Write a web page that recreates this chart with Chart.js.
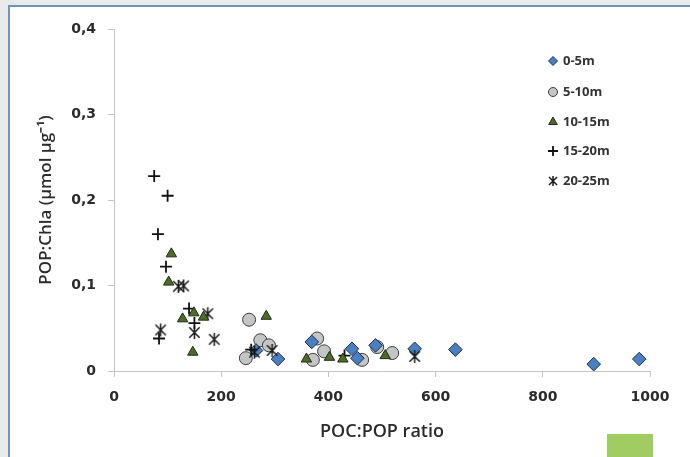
<!DOCTYPE html>
<html>
<head>
<meta charset="utf-8">
<script src="https://cdn.jsdelivr.net/npm/chart.js@4/dist/chart.umd.min.js"></script>
<style>
  html, body { margin: 0; padding: 0; }
  body { width: 690px; height: 457px; background: #e9ebea; position: relative; overflow: hidden; }
  #panel { position: absolute; left: 8px; top: 5px; right: -10px; bottom: -10px; background: #ffffff;
           border-left: 2px solid #6d95b9; border-top: 2px solid #6d95b9; }
  #green { position: absolute; left: 607px; top: 434px; width: 46px; height: 23px; background: #a0cc62; }
  #wrap { position: absolute; left: 0; top: 0; width: 690px; height: 457px; }
</style>
</head>
<body>
<div id="panel"></div>
<div id="green"></div>
<div id="wrap"><canvas id="c" width="690" height="457"></canvas></div>
<script>
// ---- data ----
const seriesLabels = ['0-5m', '5-10m', '10-15m', '15-20m', '20-25m'];

const x0_5  = [265, 306, 369, 444, 454, 488, 561, 637, 895, 980];
const y0_5  = [0.024, 0.014, 0.034, 0.026, 0.015, 0.030, 0.026, 0.025, 0.008, 0.014];

const x5_10 = [252, 273, 289, 246, 379, 392, 371, 463, 491, 519];
const y5_10 = [0.060, 0.036, 0.030, 0.015, 0.038, 0.023, 0.013, 0.013, 0.028, 0.021];

const x10_15 = [107, 102, 128, 149, 167, 284, 147, 359, 402, 427, 506];
const y10_15 = [0.137, 0.104, 0.061, 0.068, 0.063, 0.064, 0.022, 0.014, 0.016, 0.014, 0.018];

const x15_20 = [75, 100, 82, 97, 140, 150, 84, 256, 430];
const y15_20 = [0.228, 0.205, 0.160, 0.122, 0.073, 0.056, 0.038, 0.025, 0.018];

const x20_25 = [87, 120, 130, 150, 175, 187, 262, 295, 561];
const y20_25 = [0.048, 0.099, 0.0995, 0.045, 0.067, 0.037, 0.022, 0.024, 0.017];

const xTicks = [0, 200, 400, 600, 800, 1000];
const yTicks = [0, 0.1, 0.2, 0.3, 0.4];
const xTitle = 'POC:POP ratio';
const yTitle = 'POP:Chla (µmol µg⁻¹)';

function pts(xs, ys) { return xs.map((x, i) => ({ x: x, y: ys[i] })); }

// asterisk marker (X with vertical stroke)
function makeAsterisk(size, lw, color) {
  const c = document.createElement('canvas');
  c.width = size + 4; c.height = size + 4;
  const g = c.getContext('2d');
  const m = (size + 4) / 2, h = size / 2;
  g.strokeStyle = color; g.lineWidth = lw; g.lineCap = 'butt';
  g.beginPath();
  g.moveTo(m - h * 0.8, m - h * 0.8); g.lineTo(m + h * 0.8, m + h * 0.8);
  g.moveTo(m + h * 0.8, m - h * 0.8); g.lineTo(m - h * 0.8, m + h * 0.8);
  g.moveTo(m, m - h); g.lineTo(m, m + h);
  g.stroke();
  return c;
}
const starBig = makeAsterisk(13, 1.5, '#1a1a1a');
const starSmall = makeAsterisk(10, 1.5, '#1a1a1a');

const styles = [
  { pointStyle: 'rectRot', backgroundColor: '#4a7fc1', borderColor: '#1c2f48', borderWidth: 1, pointRadius: 6.8, legendRadius: 4.5 },
  { pointStyle: 'circle', backgroundColor: '#c4c5c6', borderColor: '#3c3c3c', borderWidth: 1, pointRadius: 6.5, legendRadius: 4.5 },
  { pointStyle: 'triangle', backgroundColor: '#4f6b2b', borderColor: '#1f2b12', borderWidth: 1, pointRadius: 6, legendRadius: 5 },
  { pointStyle: 'cross', backgroundColor: '#111', borderColor: '#111', borderWidth: 1.8, pointRadius: 6, legendRadius: 5 },
  { pointStyle: starBig, backgroundColor: '#222', borderColor: '#222', borderWidth: 1, pointRadius: 6, legendRadius: 5, legendImg: starSmall }
];
const allData = [pts(x0_5, y0_5), pts(x5_10, y5_10), pts(x10_15, y10_15), pts(x15_20, y15_20), pts(x20_25, y20_25)];

const datasets = seriesLabels.map((lab, i) => ({
  label: lab,
  data: allData[i],
  pointStyle: styles[i].pointStyle,
  backgroundColor: styles[i].backgroundColor,
  borderColor: styles[i].borderColor,
  borderWidth: styles[i].borderWidth,
  pointRadius: styles[i].pointRadius,
  pointHoverRadius: styles[i].pointRadius,
  showLine: false,
  order: [1, 2, 0, 0, 0][i]
}));

const legendPlugin = {
  id: 'customLegend',
  afterDraw(chart) {
    const ctx = chart.ctx;
    const x0 = 553, ys = [61, 92, 122, 151, 181];
    ctx.save();
    ctx.font = 'bold 13px "Open Sans", sans-serif';
    ctx.textBaseline = 'middle';
    ctx.textAlign = 'left';
    seriesLabels.forEach((lab, i) => {
      const s = styles[i];
      const y = ys[i];
      if (s.legendImg) {
        ctx.drawImage(s.legendImg, x0 - s.legendImg.width / 2, y - s.legendImg.height / 2);
      } else {
        ctx.fillStyle = s.backgroundColor;
        ctx.strokeStyle = s.borderColor;
        ctx.lineWidth = s.pointStyle === 'cross' ? 1.8 : 1;
        Chart.helpers.drawPoint(ctx, { pointStyle: s.pointStyle, radius: s.legendRadius, rotation: 0, borderWidth: ctx.lineWidth }, x0, y);
      }
      ctx.fillStyle = '#333';
      ctx.fillText(lab, x0 + 10, y);
    });
    ctx.restore();
  }
};

const tickFont = { family: '"DejaVu Sans", sans-serif', size: 14, weight: 'bold' };

new Chart(document.getElementById('c'), {
  type: 'scatter',
  data: { datasets: datasets },
  options: {
    responsive: false,
    animation: false,
    events: [],
    layout: { padding: { left: 36, right: 40, top: 29, bottom: 0 } },
    plugins: { legend: { display: false }, tooltip: { enabled: false } },
    scales: {
      x: {
        type: 'linear', min: 0, max: 1000,
        afterBuildTicks(scale) { scale.ticks = xTicks.map(v => ({ value: v })); },
        afterFit(scale) { scale.height = 86; },
        ticks: { font: tickFont, color: '#2b2b2b', padding: 12, maxRotation: 0,
                 callback: v => String(v) },
        grid: { display: true, drawOnChartArea: false, drawTicks: true, tickLength: 6, color: '#c4c4c4' },
        border: { display: true, color: '#c4c4c4', width: 1 },
        title: { display: true, text: xTitle, color: '#2b2b2b',
                 font: { family: '"Open Sans", sans-serif', size: 18, weight: '600' },
                 padding: { top: 0, bottom: 14 } }
      },
      y: {
        type: 'linear', min: 0, max: 0.4,
        afterBuildTicks(scale) { scale.ticks = yTicks.map(v => ({ value: v })); },
        afterFit(scale) { scale.width = 78; },
        ticks: { font: tickFont, color: '#2b2b2b', padding: 12,
                 callback: v => (v === 0 ? '0' : v.toFixed(1).replace('.', ',')) },
        grid: { display: true, drawOnChartArea: false, drawTicks: true, tickLength: 6, color: '#c4c4c4' },
        border: { display: true, color: '#c4c4c4', width: 1 },
        title: { display: true, text: yTitle, color: '#2b2b2b',
                 font: { family: '"Open Sans", sans-serif', size: 17, weight: '600' },
                 padding: { top: 0, bottom: 0 } }
      }
    }
  },
  plugins: [legendPlugin]
});
</script>
</body>
</html>
